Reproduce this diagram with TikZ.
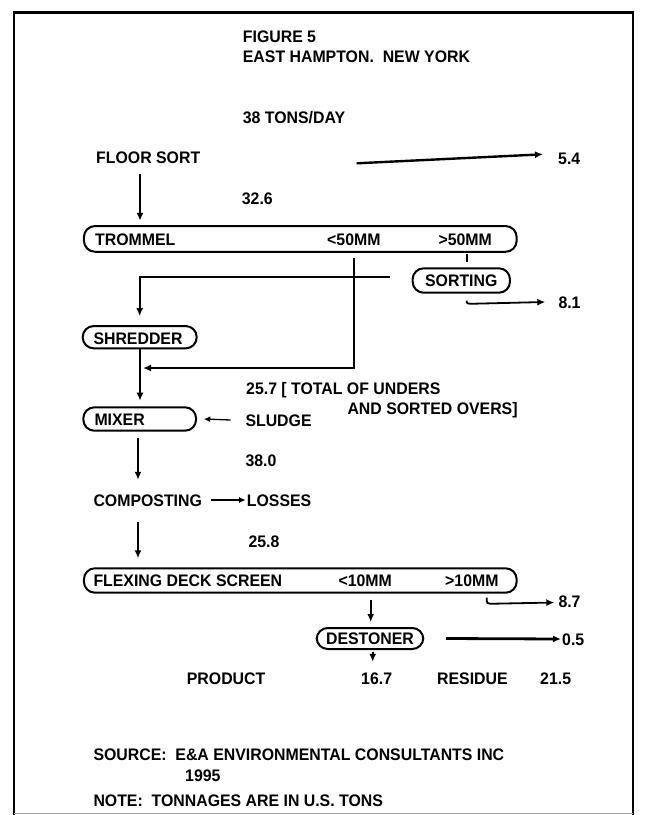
\documentclass[tikz,border=0pt]{standalone}
\usepackage{fontspec}
\setmainfont[FakeStretch=0.95]{Liberation Sans}
\usetikzlibrary{arrows.meta}
\begin{document}
\begin{tikzpicture}[x=1pt,y=-1pt,
  lbl/.style={anchor=west, inner sep=0pt, text height=12pt, text depth=0pt,
    font=\fontsize{16.7}{19}\selectfont\bfseries},
  pill/.style={draw, line width=2pt, rounded corners=11pt, inner sep=0pt,
    text height=12pt, text depth=0pt, font=\fontsize{16.7}{19}\selectfont\bfseries},
  flow/.style={line width=1.8pt, -{Latex[length=8pt,width=7pt]}},
  thinflow/.style={line width=1.3pt, -{Latex[length=6.5pt,width=6pt]}},
  plain/.style={line width=1.8pt}]
\useasboundingbox (0,0) rectangle (645,815);
% frame
\draw[line width=1.8pt] (14,815) -- (14,12) -- (633,12) -- (633,815);
\draw[line width=3pt] (14,12) -- (633,12);
\draw[line width=0.8pt, black!35] (14,813.5) -- (633,813.5);

% column reference coordinates
\coordinate (colA) at (140,0);
\coordinate (colB) at (138,0);
\coordinate (underx) at (354,0);
\coordinate (sortx) at (466.7,0);
\coordinate (colC) at (486.7,0);
\coordinate (destx) at (370.7,0);
\coordinate (prodx) at (372.7,0);

% header texts
\node[lbl] (fig) at (242.7,36.7) {FIGURE 5};
\node[lbl] (place) at (242.7,56) {EAST HAMPTON.\ \ NEW YORK};
\node[lbl] (tons) at (242.7,117.5) {38 TONS/DAY};

\node[lbl] (floorsort) at (96,157) {FLOOR SORT};
\coordinate (s54) at (356.7,163.3);
\node[lbl] (v54) at (558,158.3) {5.4};
\node[lbl] (v326) at (241.7,198.4) {32.6};

% trommel
\node[pill, minimum width=432.7pt, minimum height=25.7pt] (trommel) at (300.3,238.9) {};
\node[lbl] (ttxt) at (95,239.3) {TROMMEL};
\node[lbl] (tlt) at (327,239.3) {<50MM};
\node[lbl] (tgt) at (438.3,239.3) {>50MM};

\node[pill, minimum width=97.3pt, minimum height=24.4pt] (sorting) at (461.3,280.5) {SORTING};
\node[lbl] (v81) at (558.3,302) {8.1};
\coordinate (overs) at (390,276.7);
\coordinate (join) at (143,368);

\node[pill, minimum width=114pt, minimum height=22.3pt] (shredder) at (139.7,337.2) {};
\node[lbl] (shtxt) at (93.3,338.5) {SHREDDER};

\node[lbl] (v257) at (246,388.5) {25.7 [ TOTAL OF UNDERS};
\node[lbl] (sorted) at (347.3,408.3) {AND SORTED OVERS]};

\node[pill, minimum width=112.7pt, minimum height=23.4pt] (mixer) at (139.7,419) {};
\node[lbl] (mxtxt) at (94.3,419.5) {MIXER};
\node[lbl] (sludge) at (245.3,420) {SLUDGE};
\node[lbl] (v380) at (245.3,460.7) {38.0};

\node[lbl] (composting) at (93.3,500) {COMPOSTING};
\node[lbl] (losses) at (246.7,500) {LOSSES};
\node[lbl] (v258) at (248.3,541.7) {25.8};

\node[pill, minimum width=432.7pt, minimum height=24.4pt] (flexing) at (300.3,580.5) {};
\node[lbl] (fltxt) at (93.3,580.5) {FLEXING DECK SCREEN};
\node[lbl] (flt) at (338.3,580) {<10MM};
\node[lbl] (fgt) at (445,580) {>10MM};
\node[lbl] (v87) at (558.3,601.5) {8.7};

\node[pill, minimum width=106.6pt, minimum height=21pt] (destoner) at (370,638.5) {DESTONER};
\node[lbl] (v05) at (562,639) {0.5};

\node[lbl] (product) at (186.7,678) {PRODUCT};
\node[lbl] (v167) at (361,678) {16.7};
\node[lbl] (residue) at (437,678) {RESIDUE};
\node[lbl] (v215) at (540,678) {21.5};

\node[lbl] (source) at (93.3,754.3) {SOURCE:\ \ E\&A ENVIRONMENTAL CONSULTANTS INC};
\node[lbl] (year) at (185,775) {1995};
\node[lbl] (note) at (93.3,800) {NOTE:\ \ TONNAGES ARE IN U.S. TONS};

% connectors
\draw[flow] ([yshift=-11pt]floorsort.south -| colA) -- ([yshift=4.3pt]trommel.north -| colA);
\draw[flow, line width=2.4pt] (s54) -- ([xshift=-15pt,yshift=4pt]v54.west);
\draw[plain] ([yshift=-1.6pt]trommel.south -| sortx) -- ([yshift=5.6pt]sorting.north -| sortx);
\draw[flow] ([yshift=-5pt]trommel.south -| underx) |- (join);
\draw[flow] (overs) -| ([yshift=9pt]shredder.north);
\draw[flow] ([yshift=-7pt]sorting.south -| sortx) .. controls ([yshift=-10pt]sorting.south -| sortx) .. ([xshift=7pt,yshift=-10pt]sorting.south -| sortx) -- ([xshift=-13pt]v81.west);
\draw[flow] (shredder.south -| colA) -- ([yshift=5.6pt]mixer.north -| colA);
\draw[thinflow] ([xshift=-14.6pt]sludge.west) -- ([xshift=6.7pt]mixer.east);
\draw[flow] ([yshift=-6pt]mixer.south -| colB) -- ([yshift=14pt]composting.north -| colB);
\draw[thinflow] ([xshift=8.5pt]composting.east) -- ([xshift=-1pt]losses.west);
\draw[flow] ([yshift=-15.7pt]composting.south -| colB) -- ([yshift=9pt]flexing.north -| colB);
\draw[flow] ([yshift=-4pt]flexing.south -| colC) .. controls ([yshift=-10pt]flexing.south -| colC) .. ([xshift=7pt,yshift=-10pt]flexing.south -| colC) -- ([xshift=-4pt,yshift=-1pt]v87.west);
\draw[flow] ([yshift=-6.6pt]flexing.south -| destx) -- ([yshift=5pt]destoner.north -| destx);
\draw[flow, line width=2.8pt] ([xshift=21.7pt]destoner.east) -- ([xshift=-1pt]v05.west);
\draw[flow, line width=1.6pt] ([yshift=-1.5pt]destoner.south -| prodx) -- ([yshift=10pt]v167.north -| prodx);
\end{tikzpicture}
\end{document}
